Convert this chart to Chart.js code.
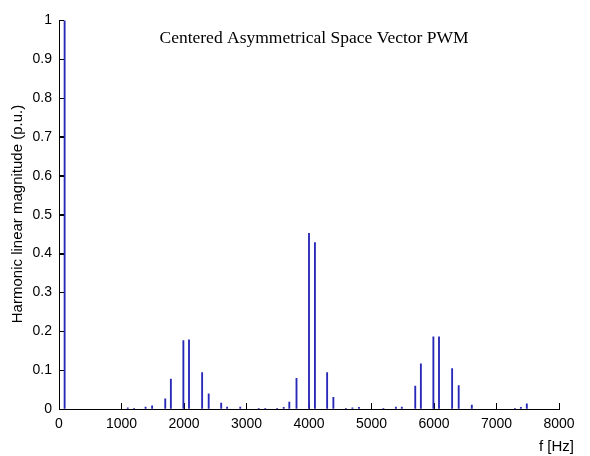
<!DOCTYPE html>
<html>
<head>
<meta charset="utf-8">
<script src="https://cdn.jsdelivr.net/npm/chart.js@4.4.0/dist/chart.umd.min.js"></script>
<style>
html,body{margin:0;padding:0;background:#fff;}
#wrap{width:590px;height:456px;position:relative;}
</style>
</head>
<body>
<div id="wrap"><canvas id="c" width="590" height="456"></canvas></div>
<script>
// Harmonic frequencies (Hz) and linear magnitudes (p.u.)
const frequencies = [90, 1100, 1200, 1385, 1490, 1700, 1790, 1990, 2080, 2290, 2395, 2595, 2690, 2900,
  3195, 3300, 3490, 3595, 3685, 3800, 4000, 4095, 4290, 4390, 4590, 4695, 4800,
  5190, 5390, 5485, 5700, 5790, 5990, 6080, 6290, 6395, 6605, 7295, 7390, 7485];
const magnitudes = [1.0, 0.003, 0.002, 0.005, 0.008, 0.026, 0.077, 0.176, 0.178, 0.094, 0.039, 0.015, 0.005, 0.005,
  0.002, 0.002, 0.002, 0.004, 0.018, 0.079, 0.452, 0.428, 0.094, 0.030, 0.002, 0.003, 0.004,
  0.002, 0.005, 0.005, 0.059, 0.116, 0.186, 0.186, 0.104, 0.060, 0.010, 0.002, 0.004, 0.013];
const xTicks = [0, 1000, 2000, 3000, 4000, 5000, 6000, 7000, 8000];
const yTicks = [0, 0.1, 0.2, 0.3, 0.4, 0.5, 0.6, 0.7, 0.8, 0.9, 1];
const chartTitle = 'Centered Asymmetrical Space Vector PWM';
const yTitle = 'Harmonic linear magnitude (p.u.)';
const xTitle = 'f [Hz]';

const points = frequencies.map((f, i) => ({x: f, y: magnitudes[i]}));

const textPlugin = {
  id: 'texts',
  afterDraw(chart) {
    const ctx = chart.ctx;
    const area = chart.chartArea;
    const ys = chart.scales.y;
    ctx.save();
    // inward y tick marks
    ctx.strokeStyle = '#000';
    ctx.lineWidth = 1;
    ctx.beginPath();
    yTicks.forEach(v => {
      const py = Math.round(ys.getPixelForValue(v)) + 0.5;
      ctx.moveTo(area.left, py);
      ctx.lineTo(area.left + 5, py);
    });
    ctx.stroke();
    ctx.fillStyle = '#000';
    ctx.font = '17.5px "Liberation Serif", "Times New Roman", serif';
    ctx.textAlign = 'center';
    ctx.textBaseline = 'middle';
    ctx.fillText(chartTitle, 314, 38);
    ctx.font = '15px "Liberation Sans", Arial, sans-serif';
    ctx.textAlign = 'right';
    ctx.fillText(xTitle, 574, 447);
    ctx.translate(18, 214);
    ctx.rotate(-Math.PI / 2);
    ctx.textAlign = 'center';
    ctx.fillText(yTitle, 0, 0);
    ctx.restore();
  }
};

new Chart(document.getElementById('c'), {
  type: 'bar',
  data: {
    datasets: [{
      data: points,
      backgroundColor: 'rgb(40,40,185)',
      borderWidth: 0,
      barThickness: 1.2,
      grouped: false
    }]
  },
  options: {
    responsive: false,
    animation: false,
    devicePixelRatio: 1,
    layout: {padding: {left: 0, top: 15, right: 31, bottom: 0}},
    plugins: {legend: {display: false}, title: {display: false}, tooltip: {enabled: false}},
    scales: {
      x: {
        type: 'linear',
        min: 0, max: 8000,
        offset: false,
        afterBuildTicks: s => { s.ticks = xTicks.map(v => ({value: v})); },
        afterFit: s => { s.height = 47; },
        ticks: {
          color: '#000',
          font: {family: '"Liberation Sans", Arial, sans-serif', size: 14},
          padding: 13,
          maxRotation: 0,
          autoSkip: false,
          callback: v => String(v)
        },
        grid: {display: true, offset: false, drawOnChartArea: false, drawTicks: true, tickLength: -6, color: '#000', lineWidth: 1},
        border: {display: true, color: '#000', width: 1}
      },
      y: {
        type: 'linear',
        min: 0, max: 1,
        afterBuildTicks: s => { s.ticks = yTicks.map(v => ({value: v})); },
        afterFit: s => { s.width = 59; },
        ticks: {
          color: '#000',
          font: {family: '"Liberation Sans", Arial, sans-serif', size: 14},
          padding: 12,
          autoSkip: false,
          callback: v => String(Math.round(v * 10) / 10)
        },
        grid: {display: true, offset: false, drawOnChartArea: false, drawTicks: true, tickLength: -5, color: '#000', lineWidth: 1},
        border: {display: true, color: '#000', width: 1}
      }
    }
  },
  plugins: [textPlugin]
});
</script>
</body>
</html>
